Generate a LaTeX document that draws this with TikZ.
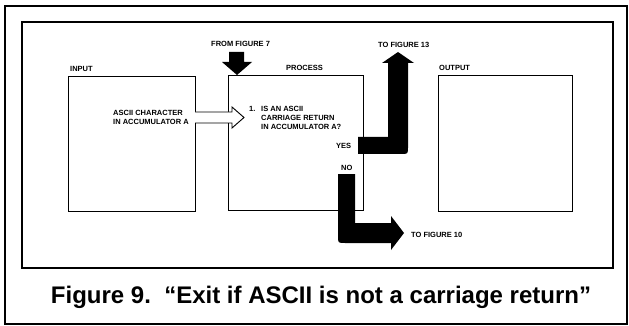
\documentclass[tikz,border=0pt]{standalone}
\usepackage{fontspec}
\setmainfont{Liberation Sans}
\begin{document}
\begin{tikzpicture}[x=1pt,y=-1pt,
  lbl/.style={font=\bfseries\fontsize{7.5}{9}\selectfont, inner sep=0pt, align=left},
  box/.style={draw, line width=1pt, inner sep=0pt},
  blk/.style={fill=black}]
\useasboundingbox (0,0) rectangle (629,326);
% frames
\draw[line width=2.2pt] (5,6) rectangle (627,324);
\draw[line width=1.3pt] (22,22) rectangle (613,268);
% boxes
\node[box, anchor=north west, minimum width=127pt, minimum height=135pt] (input) at (68,76) {};
\node[box, anchor=north west, minimum width=135pt, minimum height=135pt] (process) at (228,75) {};
\node[box, anchor=north west, minimum width=134pt, minimum height=136pt] (output) at (438,75) {};
% headings
\node[lbl, anchor=west] (inlbl) at (70,69) {INPUT};
\node[lbl, anchor=west] (proclbl) at (286,68) {PROCESS};
\node[lbl, anchor=west] (outlbl) at (439,68) {OUTPUT};
\node[lbl, anchor=west] (from7) at (211,44) {FROM FIGURE 7};
\node[lbl, anchor=west] (to13) at (378,45) {TO FIGURE 13};
\node[lbl, anchor=west] (to10) at (411,235) {TO FIGURE 10};
% texts
\node[lbl, anchor=west] (intext) at (113,117.5) {ASCII CHARACTER\\IN ACCUMULATOR A};
\node[lbl, anchor=west] (num) at (249,109) {1.};
\node[lbl, anchor=west] (proctext) at (261,118) {IS AN ASCII\\CARRIAGE RETURN\\IN ACCUMULATOR A?};
\node[lbl, anchor=west] (yes) at (336,146) {YES};
\node[lbl, anchor=west] (no) at (341,168) {NO};
% arrows
\fill[blk] (229,52) -- (244,52) -- (244,62) -- (252,62) -- (237,75) -- (222,62) -- (229,62) -- cycle;
\draw[fill=white, line width=0.9pt] (195,112) -- (232,112) -- (232,107) -- (244,117.5) -- (232,128) -- (232,123) -- (195,123);
\fill[blk] (358,137) -- (388,137) -- (388,63) -- (382,63) -- (398,52) -- (414,63) -- (408,63) -- (408,147) .. controls (408,154) .. (401,154) -- (358,154) -- cycle;
\fill[blk] (338,174) -- (355,174) -- (355,223) -- (391,223) -- (391,216) -- (404,233) -- (391,250) -- (391,243) -- (345,243) .. controls (338,243) .. (338,236) -- cycle;
% caption
\node[font=\bfseries\fontsize{24}{28}\selectfont, inner sep=0pt, anchor=base] (cap) at (321,303) {Figure 9.\ \ “Exit if ASCII is not a carriage return”};
\end{tikzpicture}
\end{document}
